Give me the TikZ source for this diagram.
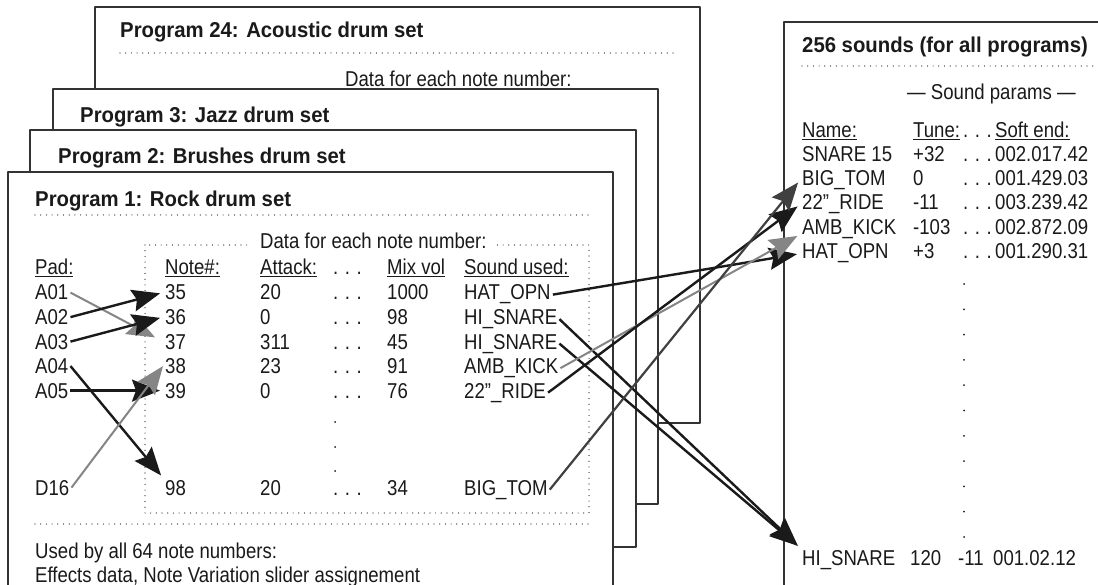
\documentclass[tikz,border=0pt]{standalone}
\usepackage{fontspec}
\setmainfont{Liberation Sans}[FakeStretch=0.865]
\newfontfamily\headfont{Liberation Sans}[FakeStretch=0.945]
\usetikzlibrary{arrows.meta}
\definecolor{ink}{HTML}{1A1A1A}
\definecolor{frame}{HTML}{333333}
\definecolor{lgray}{HTML}{858585}
\definecolor{dgray}{HTML}{404040}
\newcommand\gapdots{.\hspace{6.5pt}.\hspace{6.5pt}.}

\begin{document}
\begin{tikzpicture}[x=1pt, y=-1pt, line join=round,
    font=\fontsize{21.5}{24}\selectfont, text=ink,
    every node/.style={inner sep=2pt},
    txt/.style={anchor=base west},
    head/.style={anchor=base west, inner ysep=1pt},
    ttl/.style={anchor=base west, font=\headfont\bfseries\fontsize{21.5}{24}\selectfont},
    panel/.style={draw=frame, line width=1.3pt, fill=white},
    dots/.style={draw=ink, line width=1.2pt, dash pattern=on 0pt off 5.7pt, line cap=round},
    link/.style={draw=ink, line width=2.4pt, shorten >=3pt, -{Stealth[length=28pt,width=22pt,inset=4pt]}}]
  \useasboundingbox (0,0) rectangle (1098,585);
  \clip (0,0) rectangle (1098,585);

  % stacked programs
  \draw[panel] (95,7) rectangle (700,423);
  \node[ttl] (t24) at (118,38) {Program 24: Acoustic drum set};
  \draw[dots] (120,53) -- (676,53);
  \node[txt] (d24) at (343,87) {Data for each note number:};

  \draw[panel] (53,89) rectangle (658,504);
  \node[ttl] (t3) at (78,123) {Program 3: Jazz drum set};

  \draw[panel] (30,130) rectangle (636,547);
  \node[ttl] (t2) at (56,164) {Program 2: Brushes drum set};

  \draw[panel] (8,172) rectangle (613,620);
  \node[ttl] (t1) at (33,207) {Program 1: Rock drum set};
  \draw[dots] (35,215) -- (590,215);
  \draw[dots] (145,245) rectangle (589,513);
  \node[txt, fill=white, inner xsep=9pt] (d1) at (251,249) {Data for each note number:};

  % column heads
  \node[head] (hpad) at (33,275) {\underline{Pad:}};
  \node[head] (hnote) at (163,275) {\underline{Note\#:}};
  \node[head] (hatk) at (258,275) {\underline{Attack:}};
  \node[head] (hdot) at (331,275) {\gapdots};
  \node[head] (hmix) at (385,275) {\underline{Mix vol}};
  \node[head] (hsnd) at (462,275) {\underline{Sound used:}};

  % rows
  \node[txt] (a01) at (33,300) {A01};
  \node[txt] (n35) at (163,300) {35};
  \node[txt] (k35) at (258,300) {20};
  \node[txt] (e35) at (331,300) {\gapdots};
  \node[txt] (m35) at (385,300) {1000};
  \node[txt] (s35) at (462,300) {HAT\_OPN};

  \node[txt] (a02) at (33,324.5) {A02};
  \node[txt] (n36) at (163,324.5) {36};
  \node[txt] (k36) at (258,324.5) {0};
  \node[txt] (e36) at (331,324.5) {\gapdots};
  \node[txt] (m36) at (385,324.5) {98};
  \node[txt] (s36) at (462,324.5) {HI\_SNARE};

  \node[txt] (a03) at (33,349) {A03};
  \node[txt] (n37) at (163,349) {37};
  \node[txt] (k37) at (258,349) {311};
  \node[txt] (e37) at (331,349) {\gapdots};
  \node[txt] (m37) at (385,349) {45};
  \node[txt] (s37) at (462,349) {HI\_SNARE};

  \node[txt] (a04) at (33,373.5) {A04};
  \node[txt] (n38) at (163,373.5) {38};
  \node[txt] (k38) at (258,373.5) {23};
  \node[txt] (e38) at (331,373.5) {\gapdots};
  \node[txt] (m38) at (385,373.5) {91};
  \node[txt] (s38) at (462,373.5) {AMB\_KICK};

  \node[txt] (a05) at (33,398) {A05};
  \node[txt] (n39) at (163,398) {39};
  \node[txt] (k39) at (258,398) {0};
  \node[txt] (e39) at (331,398) {\gapdots};
  \node[txt] (m39) at (385,398) {76};
  \node[txt] (s39) at (462,398) {22"\_RIDE};

  \fill[ink] (335,422) circle (1pt);
  \fill[ink] (335,447) circle (1pt);
  \fill[ink] (335,471) circle (1pt);

  \node[txt] (d16) at (33,495) {D16};
  \node[txt] (n98) at (163,495) {98};
  \node[txt] (k98) at (258,495) {20};
  \node[txt] (e98) at (331,495) {\gapdots};
  \node[txt] (m98) at (385,495) {34};
  \node[txt] (s98) at (462,495) {BIG\_TOM};

  \draw[dots] (35,524) -- (589,524);
  \node[txt] (used) at (33,558) {Used by all 64 note numbers:};
  \node[txt] (fx) at (33,582) {Effects data, Note Variation slider assignement};

  % sound list
  \draw[panel] (784,22) rectangle (1130,620);
  \node[ttl] (t256) at (800,53) {256 sounds (for all programs)};
  \draw[dots] (802,66) -- (1093,66);
  \node[txt] (par) at (905,100) {--- Sound params ---};
  \node[head] (hname) at (800,138) {\underline{Name:}};
  \node[head] (htune) at (911,138) {\underline{Tune:}};
  \node[head] (hrdot) at (961,138) {\gapdots};
  \node[head] (hsoft) at (993,138) {\underline{Soft end:}};

  \node[txt] (r-snare) at (800,161.5) {SNARE 15};
  \node[txt] at (911,161.5) {+32};
  \node[txt] at (961,161.5) {\gapdots};
  \node[txt] at (993,161.5) {002.017.42};

  \node[txt] (r-big) at (800,185.5) {BIG\_TOM};
  \node[txt] at (911,185.5) {0};
  \node[txt] at (961,185.5) {\gapdots};
  \node[txt] at (993,185.5) {001.429.03};

  \node[txt] (r-ride) at (800,210) {22"\_RIDE};
  \node[txt] at (911,210) {-11};
  \node[txt] at (961,210) {\gapdots};
  \node[txt] at (993,210) {003.239.42};

  \node[txt] (r-amb) at (800,234.5) {AMB\_KICK};
  \node[txt] at (911,234.5) {-103};
  \node[txt] at (961,234.5) {\gapdots};
  \node[txt] at (993,234.5) {002.872.09};

  \node[txt] (r-hat) at (800,259) {HAT\_OPN};
  \node[txt] at (911,259) {+3};
  \node[txt] at (961,259) {\gapdots};
  \node[txt] at (993,259) {001.290.31};

  \foreach \y in {284,309.3,334.6,359.9,385.2,410.5,435.8,461.1,486.4,511.7,537}
    \fill[ink] (964,\y) circle (1pt);

  \node[txt] (r-hisn) at (800,565) {HI\_SNARE};
  \node[txt] at (908,565) {120};
  \node[txt] at (956,565) {-11};
  \node[txt] at (991,565) {001.02.12};

  % pads to notes
  \draw[link, draw=lgray, fill=lgray, line width=2pt, shorten >=9pt] (a01.east) -- (n37.west);
  \draw[link, fill=ink] (a02.east) -- (n35.west);
  \draw[link, fill=ink] (a03.east) -- (n36.west);
  \draw[link, fill=ink] (a04.east) -- (n98.north west);
  \draw[link, fill=ink] (a05.east) -- (n39.west);
  \draw[link, draw=lgray, fill=lgray, line width=2pt, shorten >=0pt] (d16.east) -- (n38.west);

  % sounds used
  \draw[link, fill=ink] (s35.east) -- (r-hat.west);
  \draw[link, fill=ink] (s36.east) -- (r-hisn.north west);
  \draw[link, fill=ink] (s37.east) -- (r-hisn.north west);
  \draw[link, draw=lgray, fill=lgray, line width=2pt] (s38.east) -- (r-amb.base west);
  \draw[link, fill=ink] (s39.east) -- (r-ride.west);
  \draw[link, draw=dgray, fill=dgray, line width=2.2pt] (s98.east) -- (r-big.west);
\end{tikzpicture}
\end{document}
